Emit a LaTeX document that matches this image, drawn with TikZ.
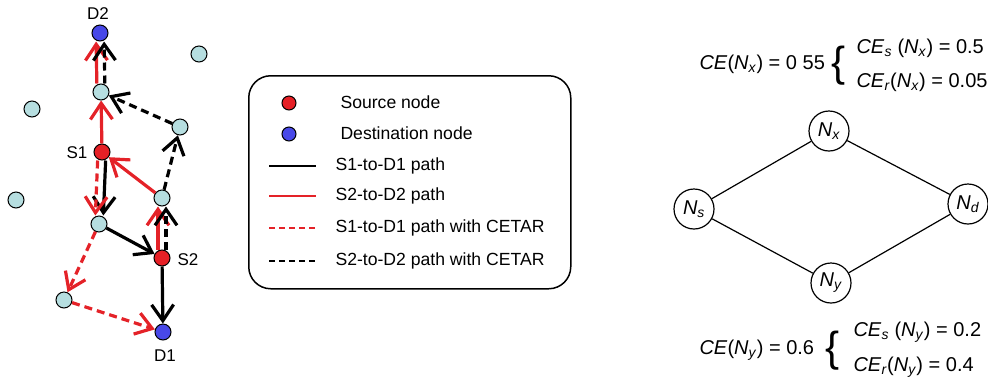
\documentclass[tikz,border=0pt]{standalone}
\usepackage{fontspec}
\setmainfont{Liberation Sans}
\usetikzlibrary{arrows.meta}

\definecolor{srcred}{RGB}{230,32,38}
\definecolor{dstblue}{RGB}{72,72,232}
\definecolor{relay}{RGB}{182,222,224}
\definecolor{pathred}{RGB}{228,34,40}

\tikzset{
  x=1pt, y=-1pt,
  relaynode/.style={circle, draw=black, line width=1pt, fill=relay, minimum size=16pt, inner sep=0pt},
  srcnode/.style={relaynode, fill=srcred},
  dstnode/.style={relaynode, fill=dstblue},
  lbl/.style={font=\fontsize{17}{19}\selectfont},
  hop/.style={line width=3.2pt, -{Straight Barb[length=16pt,width=22pt,line width=3.2pt]}},
  blackhop/.style={hop, black},
  redhop/.style={hop, pathred},
  dashedhop/.style={dash pattern=on 8pt off 5pt},
  legtext/.style={font=\fontsize{17.6}{19}\selectfont, anchor=west},
  cenode/.style={circle, draw=black, line width=1.2pt, fill=white, minimum size=40pt, inner sep=0pt, font=\fontsize{20}{22}\selectfont},
  eqtext/.style={font=\fontsize{20}{22}\selectfont, anchor=west},
  bracetext/.style={font=\fontsize{42}{42}\selectfont},
}

\newcommand{\ce}{\textit{CE}}
\newcommand{\nn}[1]{\textit{N}\textsubscript{\textit{#1}}}

\begin{document}
\begin{tikzpicture}
\useasboundingbox (0,0) rectangle (988,376);

% ---------- network ----------
\node[dstnode]   (D2) at (100,33)  {};
\node[relaynode] (r1) at (199,54)  {};
\node[relaynode] (A)  at (101,92)  {};
\node[relaynode] (r2) at (32,109)  {};
\node[relaynode] (B)  at (180,127) {};
\node[srcnode]   (S1) at (102,152) {};
\node[relaynode] (r3) at (16,200)  {};
\node[relaynode] (C)  at (162,198) {};
\node[relaynode] (E)  at (99,224)  {};
\node[srcnode]   (S2) at (162,258) {};
\node[relaynode] (F)  at (64,300)  {};
\node[dstnode]   (D1) at (163,332) {};

\node[lbl] (tD2) at (98,14)  {D2};
\node[lbl] (tS1) at (77,153) {S1};
\node[lbl] (tS2) at (188,260) {S2};
\node[lbl] (tD1) at (165,356) {D1};

% S1-to-D1 path
\draw[blackhop, transform canvas={xshift=4pt}] (S1) -- (E);
\draw[blackhop] (E) -- (S2);
\draw[blackhop] (S2) -- (D1);

% S2-to-D2 path
\draw[redhop, transform canvas={xshift=-4pt}] (S2) -- (C);
\draw[redhop] (C) -- (S1);
\draw[redhop] (S1) -- (A);
\draw[redhop, transform canvas={xshift=-4pt}] (A) -- (D2);

% S1-to-D1 path with CETAR
\draw[redhop, dashedhop, transform canvas={xshift=-4pt}] (S1) -- (E);
\draw[redhop, dashedhop] (E) -- (F);
\draw[redhop, dashedhop] (F) -- (D1);

% S2-to-D2 path with CETAR
\draw[blackhop, dashedhop, transform canvas={xshift=4pt}] (S2) -- (C);
\draw[blackhop, dashedhop] (C) -- (B);
\draw[blackhop, dashedhop] (B) -- (A);
\draw[blackhop, dashedhop, transform canvas={xshift=4pt}] (A) -- (D2);

% ---------- legend ----------
\node[draw=black, line width=1.5pt, rounded corners=22pt, minimum width=322pt, minimum height=213pt, anchor=north west] (legend) at (248,75) {};
\node[circle, draw=black, line width=1pt, fill=srcred, minimum size=14pt, inner sep=0pt] (lsrc) at (289,103) {};
\node[circle, draw=black, line width=1pt, fill=dstblue, minimum size=14pt, inner sep=0pt] (ldst) at (289,134) {};
\node[legtext] (tsrc) at (337,102) {Source node};
\node[legtext] (tdst) at (337,133) {Destination node};

\coordinate (l1a) at (269,166); \coordinate (l1b) at (316,166);
\coordinate (l2a) at (269,196); \coordinate (l2b) at (316,196);
\coordinate (l3a) at (269,228); \coordinate (l3b) at (316,228);
\coordinate (l4a) at (269,261); \coordinate (l4b) at (316,261);
\draw[black, line width=1.5pt] (l1a) -- (l1b);
\draw[pathred, line width=1.5pt] (l2a) -- (l2b);
\draw[pathred, line width=2.2pt, dash pattern=on 6pt off 4pt] (l3a) -- (l3b);
\draw[black, line width=2.2pt, dash pattern=on 6pt off 4pt] (l4a) -- (l4b);
\node[legtext] (t1) at (332,166) {S1-to-D1 path};
\node[legtext] (t2) at (332,196) {S2-to-D2 path};
\node[legtext] (t3) at (332,228) {S1-to-D1 path with CETAR};
\node[legtext] (t4) at (332,261) {S2-to-D2 path with CETAR};

% ---------- congestion example ----------
\node[cenode] (Nx) at (829,131) {\nn{x}};
\node[cenode] (Ns) at (694,209) {\nn{s}};
\node[cenode] (Nd) at (968,204) {\nn{d}};
\node[cenode] (Ny) at (831,283) {\nn{y}};
\draw[line width=1.2pt] (Ns) -- (Nx) -- (Nd);
\draw[line width=1.2pt] (Ns) -- (Ny) -- (Nd);

\node[eqtext] (ex)  at (696,64)  {\ce(\nn{x}) = 0 55};
\node[bracetext] (bx) at (839,66) {\{};
\node[eqtext] (exs) at (853,48)  {\ce\textsubscript{\textit{s}} (\nn{x}) = 0.5};
\node[eqtext] (exr) at (853,82)  {\ce\textsubscript{\textit{r}}(\nn{x}) = 0.05};

\node[eqtext] (ey)  at (696,350) {\ce(\nn{y}) = 0.6};
\node[bracetext] (by) at (833,351) {\{};
\node[eqtext] (eys) at (850,332) {\ce\textsubscript{\textit{s}} (\nn{y}) = 0.2};
\node[eqtext] (eyr) at (850,367) {\ce\textsubscript{\textit{r}}(\nn{y}) = 0.4};
\end{tikzpicture}
\end{document}
